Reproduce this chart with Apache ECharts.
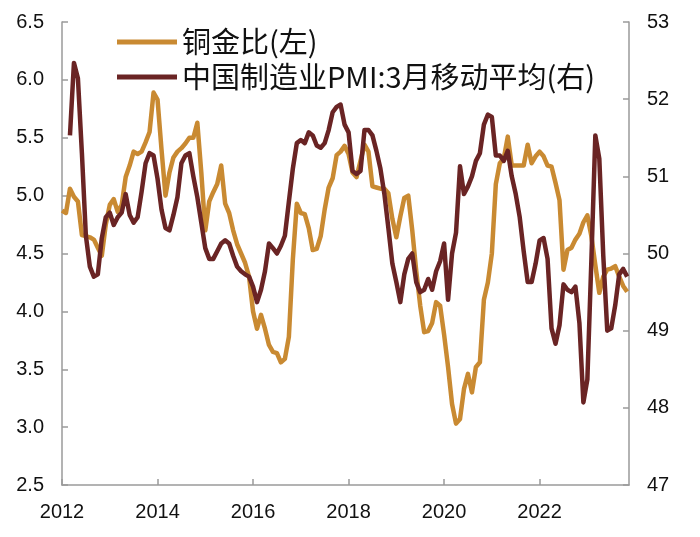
<!DOCTYPE html>
<html>
<head>
<meta charset="utf-8">
<script src="https://cdn.jsdelivr.net/npm/echarts@6/dist/echarts.min.js"></script>
<style>
html,body{margin:0;padding:0;background:#fff;}
#chart{width:700px;height:537px;}
</style>
</head>
<body>
<div id="chart"></div>
<script>
// Monthly data, Jan 2012 (index 0) to Nov 2023
const startYear = 2012;
const seriesNames = ['铜金比(左)', '中国制造业PMI:3月移动平均(右)'];
const xTickYears = [2012, 2014, 2016, 2018, 2020, 2022];
const leftTicks = [2.5, 3.0, 3.5, 4.0, 4.5, 5.0, 5.5, 6.0, 6.5];
const rightTicks = [47, 48, 49, 50, 51, 52, 53];

// 铜金比 (left axis)
const copperGold = [
  4.87, 4.85, 5.06, 4.99, 4.95, 4.66, 4.65, 4.64, 4.62, 4.55, 4.48, 4.75,
  4.92, 4.97, 4.86, 4.92, 5.16, 5.26, 5.38, 5.36, 5.38, 5.46, 5.55, 5.89,
  5.83, 5.40, 5.00, 5.20, 5.33, 5.38, 5.41, 5.45, 5.50, 5.50, 5.63, 5.20,
  4.70, 4.95, 5.03, 5.10, 5.26, 4.93, 4.85, 4.70, 4.58, 4.50, 4.42, 4.30,
  4.00, 3.85, 3.97, 3.85, 3.71, 3.65, 3.64, 3.56, 3.59, 3.78, 4.45, 4.93,
  4.85, 4.84, 4.72, 4.53, 4.54, 4.65, 4.88, 5.07, 5.15, 5.35, 5.38, 5.43,
  5.36, 5.20, 5.16, 5.30, 5.44, 5.38, 5.08, 5.07, 5.06, 5.06, 5.02, 4.80,
  4.64, 4.82, 4.98, 5.00, 4.70, 4.35, 4.05, 3.82, 3.83, 3.90, 4.08, 4.05,
  3.80, 3.52, 3.20, 3.03, 3.07, 3.33, 3.46, 3.30, 3.52, 3.56, 4.10, 4.25,
  4.50, 5.10, 5.28, 5.32, 5.51, 5.26, 5.26, 5.26, 5.26, 5.44, 5.28, 5.34,
  5.38, 5.34, 5.26, 5.25, 5.11, 4.96, 4.36, 4.53, 4.55, 4.62, 4.67, 4.77,
  4.83, 4.65, 4.40, 4.16, 4.30, 4.36, 4.37, 4.39, 4.30, 4.22, 4.17
];

// 中国制造业PMI 3月移动平均 (right axis), starts Mar 2012
const pmi3m = [
  null, null, 51.53, 52.47, 52.27, 51.30, 50.23, 49.83, 49.70, 49.73, 50.20, 50.47,
  50.53, 50.37, 50.47, 50.53, 50.77, 50.50, 50.40, 50.47, 50.80, 51.17, 51.30, 51.27,
  50.97, 50.57, 50.33, 50.30, 50.50, 50.73, 51.17, 51.27, 51.30, 51.00, 50.73, 50.40,
  50.07, 49.93, 49.93, 50.03, 50.13, 50.17, 50.13, 49.97, 49.83, 49.77, 49.73, 49.70,
  49.57, 49.37, 49.53, 49.77, 50.13, 50.07, 50.00, 50.10, 50.23, 50.67, 51.10, 51.43,
  51.47, 51.43, 51.57, 51.53, 51.40, 51.37, 51.43, 51.60, 51.83, 51.90, 51.93, 51.67,
  51.57, 51.07, 51.03, 51.07, 51.60, 51.60, 51.53, 51.33, 51.10, 50.77, 50.33, 49.87,
  49.63, 49.37, 49.73, 49.93, 50.00, 49.63, 49.50, 49.53, 49.67, 49.53, 49.77, 49.90,
  50.13, 49.40, 50.00, 50.27, 51.13, 50.77, 50.87, 51.00, 51.20, 51.30, 51.67, 51.80,
  51.77, 51.27, 51.27, 51.20, 51.33, 51.00, 50.77, 50.47, 50.03, 49.63, 49.63, 49.87,
  50.17, 50.20, 49.93, 49.03, 48.83, 49.07, 49.60, 49.53, 49.50, 49.57, 49.10, 48.07,
  48.37, 49.90, 51.53, 51.23, 49.97, 49.00, 49.03, 49.33, 49.73, 49.80, 49.70
];

const monthPos = i => startYear + i / 12;
const copperData = copperGold.map((v, i) => [monthPos(i), v]);
const pmiData = pmi3m.map((v, i) => [monthPos(i), v]);

const axisGray = '#9a9a9a';
const labelFont = { color: '#111', fontSize: 20, fontFamily: 'Liberation Sans, Arial, sans-serif' };

const chart = echarts.init(document.getElementById('chart'), null, { renderer: 'canvas' });
chart.setOption({
  animation: false,
  backgroundColor: '#fff',
  grid: { left: 62, right: 71, top: 22, bottom: 52, containLabel: false },
  legend: {
    orient: 'vertical',
    left: 117,
    top: 26,
    padding: 0,
    itemWidth: 60,
    itemHeight: 5,
    itemGap: 3,
    icon: 'rect',
    data: seriesNames,
    textStyle: { color: '#111', fontSize: 29, lineHeight: 32, fontFamily: 'Noto Sans CJK SC, sans-serif' }
  },
  xAxis: {
    type: 'value',
    min: xTickYears[0],
    max: startYear + 142.46 / 12,
    interval: 2,
    splitLine: { show: false },
    axisLine: { show: true, lineStyle: { color: axisGray, width: 1.5 } },
    axisTick: { show: true, inside: true, length: 6, lineStyle: { color: axisGray, width: 1.5 } },
    axisLabel: Object.assign({ margin: 17, showMaxLabel: false,
      formatter: v => (xTickYears.indexOf(Math.round(v)) >= 0 ? String(Math.round(v)) : '') }, labelFont)
  },
  yAxis: [
    {
      type: 'value',
      min: leftTicks[0], max: leftTicks[leftTicks.length - 1], interval: 0.5,
      position: 'left',
      splitLine: { show: false },
      axisLine: { show: true, lineStyle: { color: axisGray, width: 1.5 } },
      axisTick: { show: true, inside: true, length: 6, lineStyle: { color: axisGray, width: 1.5 } },
      axisLabel: Object.assign({ margin: 18, padding: [4, 0, 0, 0], formatter: v => v.toFixed(1) }, labelFont)
    },
    {
      type: 'value',
      min: rightTicks[0], max: rightTicks[rightTicks.length - 1], interval: 1,
      position: 'right',
      splitLine: { show: false },
      axisLine: { show: true, lineStyle: { color: axisGray, width: 1.5 } },
      axisTick: { show: true, inside: true, length: 6, lineStyle: { color: axisGray, width: 1.5 } },
      axisLabel: Object.assign({ margin: 18, padding: [3, 0, 0, 0], formatter: v => String(v) }, labelFont)
    }
  ],
  series: [
    {
      name: seriesNames[0], type: 'line', yAxisIndex: 0, data: copperData,
      showSymbol: false, symbol: 'none', color: '#C98A32',
      lineStyle: { width: 4.5, color: '#C98A32', join: 'round' }, z: 2
    },
    {
      name: seriesNames[1], type: 'line', yAxisIndex: 1, data: pmiData,
      showSymbol: false, symbol: 'none', color: '#6A2424', connectNulls: false,
      lineStyle: { width: 4.5, color: '#6A2424', join: 'round' }, z: 3
    }
  ]
});
</script>
</body>
</html>
